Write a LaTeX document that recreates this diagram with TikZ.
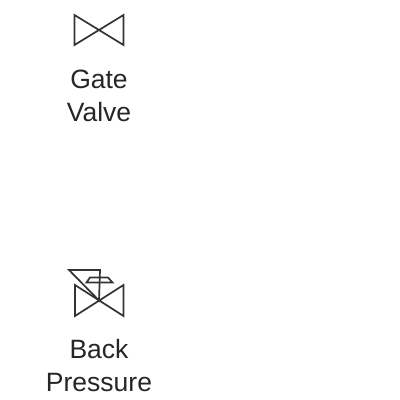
\documentclass[tikz,border=0pt]{standalone}
\usepackage{fontspec}
\setmainfont{Liberation Sans}
\tikzset{
  sym/.style={draw=black!80,line width=1.7pt,line join=miter},
  lbl/.style={inner sep=0pt,align=center,font=\fontsize{26.5}{33}\selectfont,text=black!85,anchor=base}
}
\begin{document}
\begin{tikzpicture}[x=1pt,y=-1pt]
\useasboundingbox[fill=white] (0,0) rectangle (400,400);
% Gate valve
\draw[sym] (74.5,15) -- (123.5,45) -- (123.5,15) -- (74.5,45) -- cycle;
\node[lbl] (gate) at (99,88.5) {Gate};
\node[lbl] (valve) at (99,121.5) {Valve};
% Back pressure valve
\draw[sym] (75,285) -- (123.5,316) -- (123.5,285) -- (75,316) -- cycle;
\draw[sym] (69,270) -- (100,270) -- (99,300.5) -- cycle;
\draw[sym] (86.5,282.5) -- (90,277.5) -- (108,277.5) -- (112.5,282.5) -- cycle;
\node[lbl] (back) at (99,358.5) {Back};
\node[lbl] (pressure) at (99,391.5) {Pressure};
\end{tikzpicture}
\end{document}
